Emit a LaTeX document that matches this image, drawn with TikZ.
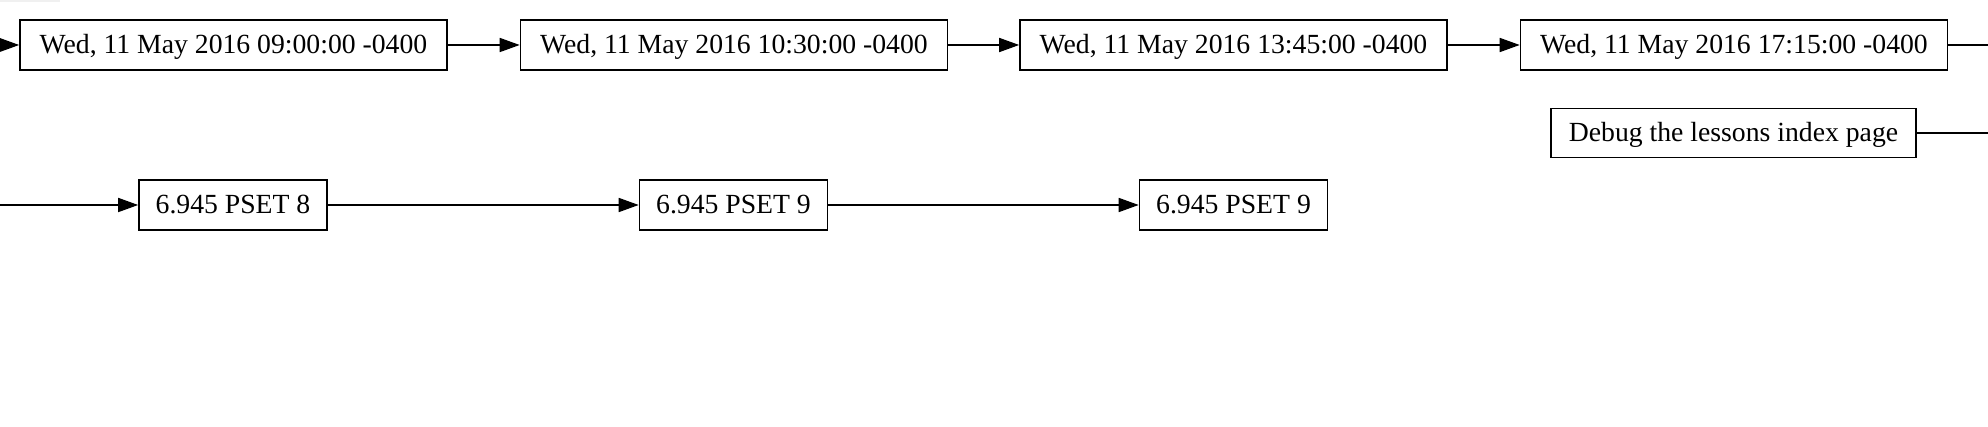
\documentclass[tikz,border=0pt]{standalone}
\usepackage{fontspec}
\setmainfont{Liberation Serif}
\usetikzlibrary{arrows.meta}
\begin{document}
\begin{tikzpicture}[x=1pt,y=-1pt,
 box/.style={draw,line width=1.6pt,inner sep=0pt,minimum height=50pt,text height=17pt,text depth=0pt,font=\fontsize{27.7}{30}\selectfont},
 datebox/.style={box,minimum width=427pt},
 psetbox/.style={box,minimum width=188pt},
 conn/.style={line width=1.6pt,-{Triangle[length=20pt,width=14pt]}},
 plainline/.style={line width=1.6pt}]
\useasboundingbox (0,0) rectangle (1988,427);
\fill[gray!12] (0,0) rectangle (60,2);
% row 1
\node[datebox] (d1) at (233.5,45) {Wed, 11 May 2016 09:00:00 -0400};
\node[datebox] (d2) at (734,45) {Wed, 11 May 2016 10:30:00 -0400};
\node[datebox] (d3) at (1233.5,45) {Wed, 11 May 2016 13:45:00 -0400};
\node[datebox] (d4) at (1734,45) {Wed, 11 May 2016 17:15:00 -0400};
% row 2
\node[box,minimum width=365pt,minimum height=49pt] (dbg) at (1733.5,133) {Debug the lessons index page};
% row 3
\node[psetbox] (p1) at (233,205) {6.945 PSET 8};
\node[psetbox] (p2) at (733.5,205) {6.945 PSET 9};
\node[psetbox] (p3) at (1233.5,205) {6.945 PSET 9};
% free ends
\coordinate (din) at (0,45);
\coordinate (dout) at (1988,45);
\coordinate (gout) at (1988,133);
\coordinate (pin) at (0,205);
% connectors
\draw[conn] (din) -- (d1);
\draw[conn] (d1) -- (d2);
\draw[conn] (d2) -- (d3);
\draw[conn] (d3) -- (d4);
\draw[plainline] (d4) -- (dout);
\draw[plainline] (dbg) -- (gout);
\draw[conn] (pin) -- (p1);
\draw[conn] (p1) -- (p2);
\draw[conn] (p2) -- (p3);
\end{tikzpicture}
\end{document}
